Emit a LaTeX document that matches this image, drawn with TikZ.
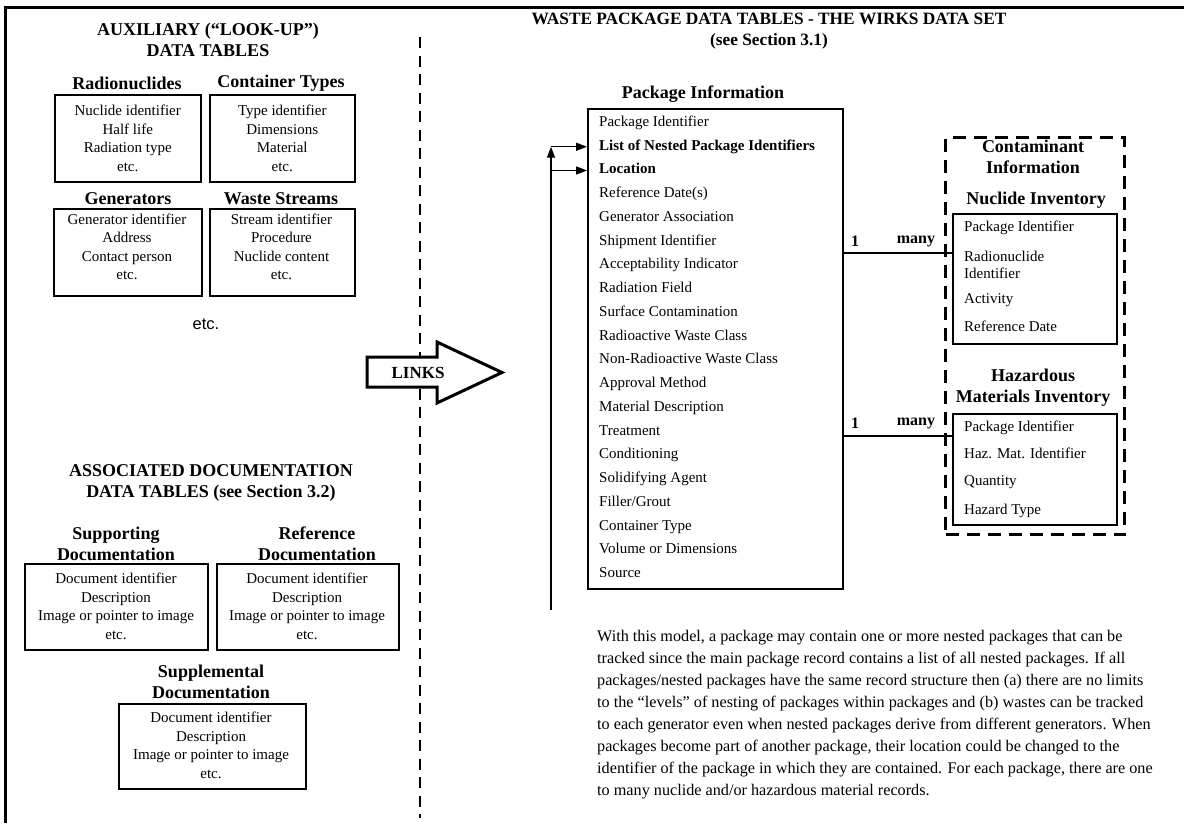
\documentclass[tikz,border=0pt]{standalone}
\usepackage{fontspec}
\setmainfont{Liberation Serif}
\newfontfamily\sansetc{Liberation Sans}
\usetikzlibrary{arrows.meta}
\begin{document}
\begin{tikzpicture}[x=1pt,y=-1pt,
  head/.style={font=\bfseries\fontsize{18}{21}\selectfont, align=center, inner sep=0pt},
  title/.style={font=\bfseries\fontsize{17.3}{21}\selectfont, align=center, inner sep=0pt},
  tbox/.style={draw, line width=1.5pt, inner sep=0pt, anchor=north west},
  ctext/.style={font=\fontsize{15}{18.5}\selectfont, align=center, inner sep=0pt},
  field/.style={font=\fontsize{15}{18}\selectfont, anchor=west, inner sep=0pt, text height=10.5pt, text depth=3.5pt},
  paraline/.style={font=\fontsize{16.2}{20}\selectfont, anchor=west, inner sep=0pt, text height=11pt, text depth=4pt},
  link/.style={line width=1.4pt},
  feed/.style={line width=1.4pt, -{Triangle[length=11pt,width=8pt]}},
  divider/.style={line width=2.8pt, dash pattern=on 11pt off 7.5pt},
  group/.style={draw, line width=3.2pt, dash pattern=on 13pt off 8pt, inner sep=0pt, anchor=north west},
  frame/.style={line width=3pt},
  cardinal/.style={font=\bfseries\fontsize{16}{18}\selectfont, inner sep=0pt}
]
\useasboundingbox (0,0) rectangle (1184,823);

% page frame and the dashed divider between the two halves
\draw[frame] (1184,7) -- (5,7) -- (5,823);
\draw[divider] (420,37) -- (420,818);

% ---------- auxiliary look-up tables ----------
\node[head] (auxtitle) at (208,39.5) {AUXILIARY (“LOOK-UP”)\\DATA TABLES};

\node[head] (radhead) at (127,83) {Radionuclides};
\node[head] (conthead) at (281,83) {Container Types};
\node[tbox, minimum width=146, minimum height=87] (radbox) at (54,94) {};
\node[tbox, minimum width=145, minimum height=87] (contbox) at (209,94) {};
\node[ctext] (radtext) at (radbox.center) {Nuclide identifier\\Half life\\Radiation type\\etc.};
\node[ctext] (conttext) at (contbox.center) {Type identifier\\Dimensions\\Material\\etc.};

\node[head] (genhead) at (128,199) {Generators};
\node[head] (wastehead) at (281,199) {Waste Streams};
\node[tbox, minimum width=148, minimum height=87] (genbox) at (53,208) {};
\node[tbox, minimum width=145, minimum height=87] (wastebox) at (209,208) {};
\node[ctext] (gentext) at (127,247) {Generator identifier\\Address\\Contact person\\etc.};
\node[ctext] (wastetext) at (281.5,247) {Stream identifier\\Procedure\\Nuclide content\\etc.};

\node[font=\sansetc\fontsize{16.5}{18}\selectfont, inner sep=0pt] (moretables) at (206,324) {etc.};

% ---------- associated documentation tables ----------
\node[head] (doctitle) at (211,482.5) {ASSOCIATED DOCUMENTATION\\DATA TABLES (see Section 3.2)};

\node[head] (supphead) at (116,543.5) {Supporting\\Documentation};
\node[head] (refhead) at (317,543.5) {Reference\\Documentation};
\node[tbox, minimum width=183, minimum height=86] (suppbox) at (24,563) {};
\node[tbox, minimum width=182, minimum height=86] (refbox) at (216,563) {};
\node[ctext] (supptext) at (116,606.5) {Document identifier\\Description\\Image or pointer to image\\etc.};
\node[ctext] (reftext) at (307,606.5) {Document identifier\\Description\\Image or pointer to image\\etc.};

\node[head] (sphead) at (211,681.5) {Supplemental\\Documentation};
\node[tbox, minimum width=187, minimum height=85] (spbox) at (118,703) {};
\node[ctext] (sptext) at (211,745.5) {Document identifier\\Description\\Image or pointer to image\\etc.};

% ---------- LINKS block arrow ----------
\draw[line width=3pt, fill=white]
  (367,357) -- (437,357) -- (437,342) -- (502,372.5) -- (437,403) -- (437,387) -- (367,387) -- cycle;
\node[font=\bfseries\fontsize{17}{20}\selectfont, inner sep=0pt] (links) at (418,373) {LINKS};

% ---------- waste package data tables ----------
\node[title] (wirkstitle) at (769,31.5) {WASTE PACKAGE DATA TABLES - THE WIRKS DATA SET\\(see Section 3.1)};

\node[head] (pkghead) at (703,94) {Package Information};
\node[tbox, minimum width=255, minimum height=480] (pkg) at (587,108) {};
\foreach \t [count=\i] in {Package Identifier, \textbf{List of Nested Package Identifiers}, \textbf{Location},
  Reference Date(s), Generator Association, Shipment Identifier, Acceptability Indicator,
  Radiation Field, Surface Contamination, Radioactive Waste Class, Non-Radioactive Waste Class,
  Approval Method, Material Description, Treatment, Conditioning, Solidifying Agent,
  Filler/Grout, Container Type, Volume or Dimensions, Source}
  \node[field] (f\i) at (599,{123+(\i-1)*23.74}) {\t};

% nesting feedback into the list and location fields
\coordinate (loopfoot) at (551,610);
\draw[feed] (loopfoot) -- (loopfoot |- f2);
\draw[feed] (loopfoot |- f2) -- (pkg.west |- f2);
\draw[feed] (loopfoot |- f3) -- (pkg.west |- f3);

% contaminant information group
\node[group, minimum width=179, minimum height=397] (contam) at (944,136) {};
\node[head] (contamhead) at (1033,157) {Contaminant\\Information};

\node[head] (nuchead) at (1036,200) {Nuclide Inventory};
\node[tbox, fill=white, minimum width=164, minimum height=130] (nucbox) at (952,213) {};
\node[field] (n1) at (964,228) {Package Identifier};
\node[field, align=left, font=\fontsize{15}{17}\selectfont, text height=, text depth=] (n2) at (964,264.5) {Radionuclide\\Identifier};
\node[field] (n3) at (964,300) {Activity};
\node[field] (n4) at (964,328) {Reference Date};

\node[head] (hazhead) at (1033,388) {Hazardous\\Materials Inventory};
\node[tbox, fill=white, minimum width=164, minimum height=111] (hazbox) at (952,413) {};
\node[field] (h1) at (964,428) {Package Identifier};
\node[field] (h2) at (964,455) {Haz. Mat. Identifier};
\node[field] (h3) at (964,482) {Quantity};
\node[field] (h4) at (964,511) {Hazard Type};

% one-to-many relations
\coordinate (nucjoin) at (952,253);
\coordinate (hazjoin) at (952,436);
\draw[link] (pkg.east |- nucjoin) -- (nucjoin);
\draw[link] (pkg.east |- hazjoin) -- (hazjoin);
\node[cardinal] (one1) at (855,241) {1};
\node[cardinal] (many1) at (916,241) {many};
\node[cardinal] (one2) at (855,423) {1};
\node[cardinal] (many2) at (916,423) {many};

% explanatory paragraph
\foreach \t [count=\i] in {
  {With this model, a package may contain one or more nested packages that can be},
  {tracked since the main package record contains a list of all nested packages. If all},
  {packages/nested packages have the same record structure then (a) there are no limits},
  {to the “levels” of nesting of packages within packages and (b) wastes can be tracked},
  {to each generator even when nested packages derive from different generators. When},
  {packages become part of another package, their location could be changed to the},
  {identifier of the package in which they are contained. For each package, there are one},
  {to many nuclide and/or hazardous material records.}}
  \node[paraline] (para\i) at (597,{637.5+(\i-1)*22.14}) {\t};
\end{tikzpicture}
\end{document}
